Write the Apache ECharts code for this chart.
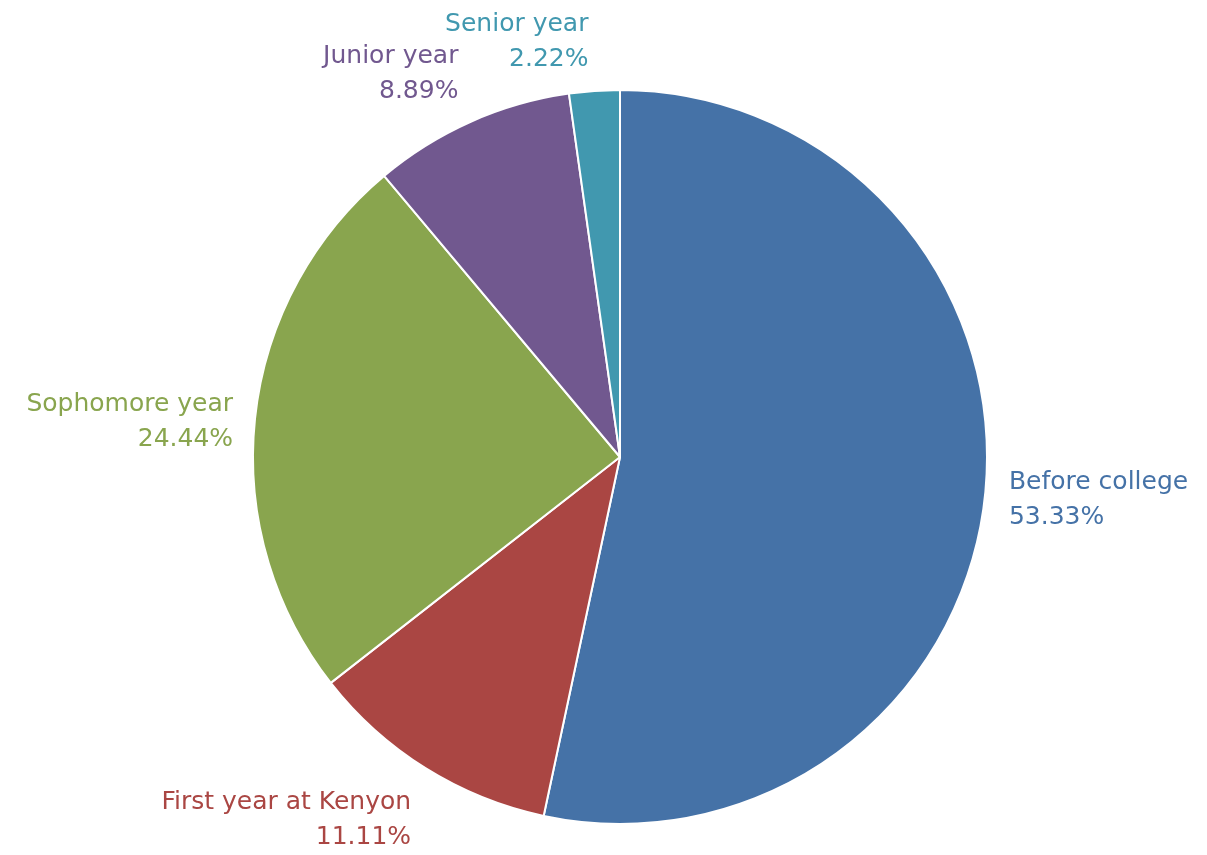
<!DOCTYPE html>
<html>
<head>
<meta charset="utf-8">
<script src="https://cdn.jsdelivr.net/npm/echarts@6/dist/echarts.min.js"></script>
<style>html,body{margin:0;padding:0;background:#fff}#c{width:1207px;height:855px}</style>
</head>
<body>
<div id="c"></div>
<script>
const categories = ['Before college', 'First year at Kenyon', 'Sophomore year', 'Junior year', 'Senior year'];
const values = [53.33, 11.11, 24.44, 8.89, 2.22];
const colors = ['#4572A7', '#AA4643', '#89A54E', '#71588F', '#4198AF'];

const labelShift = [[-1, 3], [4, 40], [-2, 5], [69, -75], [6, -35]];

const chart = echarts.init(document.getElementById('c'));
chart.setOption({
  animation: false,
  series: [{
    type: 'pie',
    center: [620, 457],
    radius: 367,
    startAngle: 90,
    clockwise: true,
    avoidLabelOverlap: true,
    itemStyle: { borderColor: '#fff', borderWidth: 2 },
    label: {
      show: true,
      position: 'outside',
      fontFamily: '"DejaVu Sans", sans-serif',
      fontSize: 25,
      lineHeight: 35,
      formatter: p => p.name + '\n' + p.value.toFixed(2) + '%'
    },
    labelLine: { show: false, length: 14, length2: 6 },
    labelLayout: p => ({ dx: labelShift[p.dataIndex][0], dy: labelShift[p.dataIndex][1] }),
    emphasis: { disabled: true },
    data: categories.map((n, i) => ({
      name: n,
      value: values[i],
      itemStyle: { color: colors[i] },
      label: { color: colors[i], align: i === 0 ? 'left' : 'right' }
    }))
  }]
});
</script>
</body>
</html>
